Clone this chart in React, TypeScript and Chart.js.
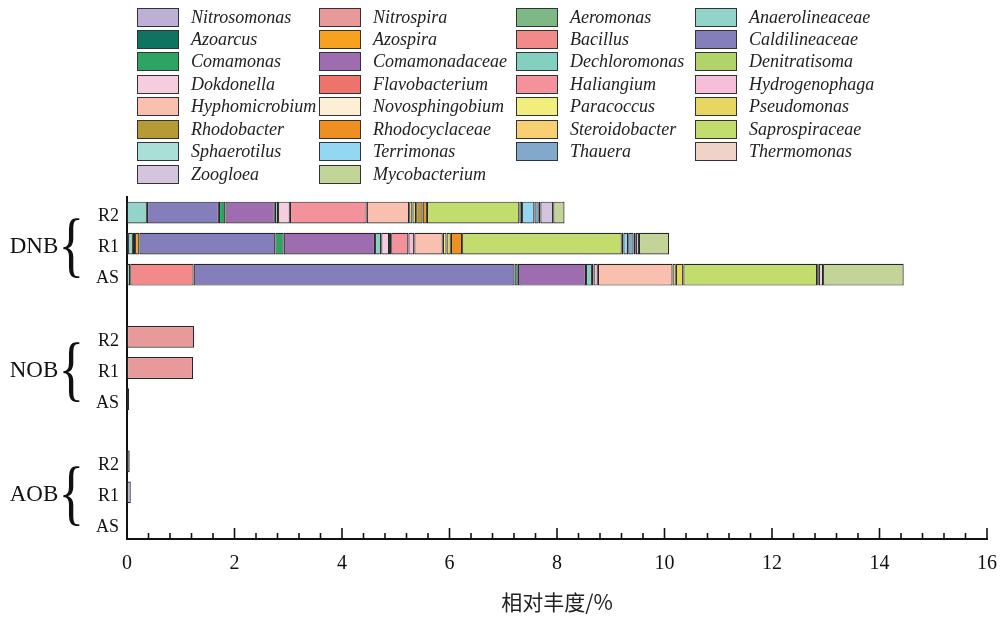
import React, { useEffect, useRef } from 'react';
import { Chart, registerables } from 'chart.js';

Chart.register(...registerables);

// Genera, in stacking / legend order (legend reads row by row, 4 per row)
const genera = [
  'Nitrosomonas', 'Nitrospira', 'Aeromonas', 'Anaerolineaceae',
  'Azoarcus', 'Azospira', 'Bacillus', 'Caldilineaceae',
  'Comamonas', 'Comamonadaceae', 'Dechloromonas', 'Denitratisoma',
  'Dokdonella', 'Flavobacterium', 'Haliangium', 'Hydrogenophaga',
  'Hyphomicrobium', 'Novosphingobium', 'Paracoccus', 'Pseudomonas',
  'Rhodobacter', 'Rhodocyclaceae', 'Steroidobacter', 'Saprospiraceae',
  'Sphaerotilus', 'Terrimonas', 'Thauera', 'Thermomonas',
  'Zoogloea', 'Mycobacterium',
];

const genusColors = [
  '#BDB0D6', '#E89A9B', '#7DB886', '#93D4CA',
  '#0E7461', '#F6A11F', '#F28A8A', '#847EBA',
  '#2EA463', '#9E6DAF', '#84D0C0', '#B2D36C',
  '#F6CCDF', '#EE736B', '#F4929C', '#F6BED9',
  '#FAC0AF', '#FCEFD5', '#F2EE7E', '#E7D762',
  '#B59A35', '#EF8F22', '#F8CF73', '#C3DC6E',
  '#AADFD8', '#94D7F3', '#82A8CC', '#EFD3C8',
  '#D4C4DD', '#C2D498',
];

// Relative abundance (%) per sample, as [genus, value] pairs
const dnbR2: [string, number][] = [
  ['Anaerolineaceae', 0.37], ['Caldilineaceae', 1.34], ['Comamonas', 0.12],
  ['Comamonadaceae', 0.92], ['Dechloromonas', 0.06], ['Dokdonella', 0.22],
  ['Haliangium', 1.43], ['Hyphomicrobium', 0.79], ['Paracoccus', 0.06],
  ['Pseudomonas', 0.07], ['Rhodobacter', 0.12], ['Rhodocyclaceae', 0.08],
  ['Saprospiraceae', 1.72], ['Sphaerotilus', 0.05], ['Terrimonas', 0.23],
  ['Thauera', 0.08], ['Thermomonas', 0.03], ['Zoogloea', 0.24],
  ['Mycobacterium', 0.21],
];
const dnbR1: [string, number][] = [
  ['Aeromonas', 0.02], ['Anaerolineaceae', 0.09], ['Azoarcus', 0.04],
  ['Azospira', 0.08], ['Caldilineaceae', 2.53], ['Comamonas', 0.155],
  ['Comamonadaceae', 1.7], ['Dechloromonas', 0.115], ['Dokdonella', 0.145],
  ['Flavobacterium', 0.04], ['Haliangium', 0.32], ['Hydrogenophaga', 0.11],
  ['Hyphomicrobium', 0.53], ['Paracoccus', 0.07], ['Pseudomonas', 0.08],
  ['Rhodocyclaceae', 0.21], ['Saprospiraceae', 2.97], ['Sphaerotilus', 0.03],
  ['Terrimonas', 0.09], ['Thauera', 0.1], ['Thermomonas', 0.04],
  ['Zoogloea', 0.06], ['Mycobacterium', 0.56],
];
const dnbAS: [string, number][] = [
  ['Anaerolineaceae', 0.06], ['Bacillus', 1.18], ['Caldilineaceae', 5.97],
  ['Comamonas', 0.06], ['Comamonadaceae', 1.27], ['Dechloromonas', 0.11],
  ['Dokdonella', 0.03], ['Hydrogenophaga', 0.08], ['Hyphomicrobium', 1.39],
  ['Paracoccus', 0.06], ['Pseudomonas', 0.14], ['Saprospiraceae', 2.49],
  ['Thauera', 0.03], ['Thermomonas', 0.08], ['Mycobacterium', 1.5],
];
const nobR2: [string, number][] = [['Nitrospira', 1.25]];
const nobR1: [string, number][] = [['Nitrospira', 1.23]];
const nobAS: [string, number][] = [['Nitrospira', 0.04]];
const aobR2: [string, number][] = [['Nitrosomonas', 0.05]];
const aobR1: [string, number][] = [['Nitrosomonas', 0.07]];
const aobAS: [string, number][] = [['Nitrosomonas', 0.01]];

// Rows from top to bottom; empty rows separate the three groups
const rowLabels = ['R2', 'R1', 'AS', '', 'R2', 'R1', 'AS', '', 'R2', 'R1', 'AS'];
const rowSamples = [dnbR2, dnbR1, dnbAS, [], nobR2, nobR1, nobAS, [], aobR2, aobR1, aobAS];
const groupNames = ['DNB', 'NOB', 'AOB'];
const groupMiddleRows = [1, 5, 9];

const xMax = 16;
const xMajorStep = 2;
const xMinorPerMajor = 5;

const SERIF = '"Liberation Serif", "Times New Roman", serif';
const CJK = '"Noto Sans CJK SC", "Noto Sans", sans-serif';

// Tick marks pointing into the plot, major and minor
const inwardTicks = {
  id: 'inwardTicks',
  afterDatasetsDraw(chart: any) {
    const { ctx, chartArea } = chart;
    const xs = chart.scales.x;
    const n = (xMax / xMajorStep) * xMinorPerMajor;
    ctx.save();
    ctx.strokeStyle = '#111';
    ctx.lineWidth = 1.6;
    for (let i = 0; i <= n; i++) {
      const v = (i * xMajorStep) / xMinorPerMajor;
      const px = xs.getPixelForValue(v);
      const len = i % xMinorPerMajor === 0 ? 11 : 6;
      ctx.beginPath();
      ctx.moveTo(px, chartArea.bottom);
      ctx.lineTo(px, chartArea.bottom - len);
      ctx.stroke();
    }
    ctx.restore();
  },
};

// Group names with a curly brace spanning each group's three rows
const groupBraces = {
  id: 'groupBraces',
  afterDraw(chart: any) {
    const { ctx } = chart;
    const ys = chart.scales.y;
    groupNames.forEach((name, g) => {
      const cy = ys.getPixelForValue(groupMiddleRows[g]);
      ctx.save();
      ctx.fillStyle = '#111';
      ctx.font = `23px ${SERIF}`;
      ctx.textAlign = 'center';
      ctx.textBaseline = 'middle';
      ctx.fillText(name, 34, cy + 3);

      ctx.textAlign = 'left';
      ctx.textBaseline = 'alphabetic';
      ctx.font = `100px ${SERIF}`;
      const m = ctx.measureText('{');
      const h100 = m.actualBoundingBoxAscent + m.actualBoundingBoxDescent;
      const size = (100 * 60) / h100;
      ctx.font = `${size}px ${SERIF}`;
      const mm = ctx.measureText('{');
      const abl = mm.actualBoundingBoxLeft;
      const abr = mm.actualBoundingBoxRight;
      const gw = abl + abr;
      const sx = 17 / gw;
      const base = cy + 4 + (mm.actualBoundingBoxAscent - mm.actualBoundingBoxDescent) / 2;
      ctx.translate(71.5, base);
      ctx.scale(sx, 1);
      ctx.fillText('{', (abl - abr) / 2, 0);
      ctx.restore();
    });
  },
};

const legendColLeft = [137, 319, 516, 695];

export default function App() {
  const canvasRef = useRef<HTMLCanvasElement | null>(null);

  useEffect(() => {
    const canvas = canvasRef.current;
    if (!canvas) return;

    const datasets = genera.map((genus, gi) => ({
      label: genus,
      data: rowSamples.map((sample) => {
        const hit = sample.find((p) => p[0] === genus);
        return hit ? hit[1] : null;
      }),
      backgroundColor: genusColors[gi],
      borderColor: '#262626',
      borderWidth: 1.2,
      borderSkipped: false,
      barPercentage: 0.7,
      categoryPercentage: 1,
      stack: 'abundance',
    }));

    const chart = new Chart(canvas, {
      type: 'bar',
      data: { labels: rowLabels, datasets },
      plugins: [inwardTicks, groupBraces],
      options: {
        indexAxis: 'y',
        animation: false,
        responsive: false,
        devicePixelRatio: 1,
        layout: { padding: { top: 197, right: 19, left: 0, bottom: 0 } },
        plugins: { legend: { display: false }, tooltip: { enabled: false } },
        scales: {
          x: {
            type: 'linear',
            stacked: true,
            min: 0,
            max: xMax,
            afterFit: (scale: any) => {
              scale.height = 79;
              scale.paddingLeft = 0;
              scale.paddingRight = 0;
            },
            grid: { display: false, drawTicks: false },
            border: { display: true, width: 2, color: '#111' },
            ticks: {
              stepSize: xMajorStep,
              padding: 13,
              color: '#111',
              font: { family: SERIF, size: 20 },
            },
            title: {
              display: true,
              text: '相对丰度/%',
              color: '#222',
              font: { family: CJK, size: 21 },
              padding: { top: 0, bottom: 3 },
            },
          },
          y: {
            type: 'category',
            stacked: true,
            offset: true,
            afterFit: (scale: any) => {
              scale.width = 127;
              scale.paddingTop = 0;
              scale.paddingBottom = 0;
            },
            grid: { display: false, drawTicks: false },
            border: { display: true, width: 2, color: '#111' },
            ticks: {
              padding: 8,
              labelOffset: 4,
              color: '#111',
              font: { family: SERIF, size: 18 },
            },
          },
        },
      } as any,
    });

    return () => chart.destroy();
  }, []);

  return (
    <div style={{ position: 'absolute', left: 0, top: 0, width: 1006, height: 618, background: '#fff' }}>
      <canvas ref={canvasRef} width={1006} height={618} style={{ display: 'block' }} />
      {genera.map((genus, i) => {
        const col = i % 4;
        const row = Math.floor(i / 4);
        return (
          <div
            key={genus}
            style={{
              position: 'absolute',
              left: legendColLeft[col],
              top: 7.5 + row * 22.46,
              height: 19,
              display: 'flex',
              alignItems: 'center',
            }}
          >
            <span
              style={{
                width: 42,
                height: 19,
                boxSizing: 'border-box',
                border: '1.5px solid #333',
                background: genusColors[i],
                flex: 'none',
                position: 'relative',
                zIndex: 1,
              }}
            />
            <span
              style={{
                marginLeft: 12,
                fontFamily: SERIF,
                fontStyle: 'italic',
                fontSize: 18,
                color: '#222',
                whiteSpace: 'nowrap',
                lineHeight: '19px',
              }}
            >
              {genus}
            </span>
          </div>
        );
      })}
    </div>
  );
}
